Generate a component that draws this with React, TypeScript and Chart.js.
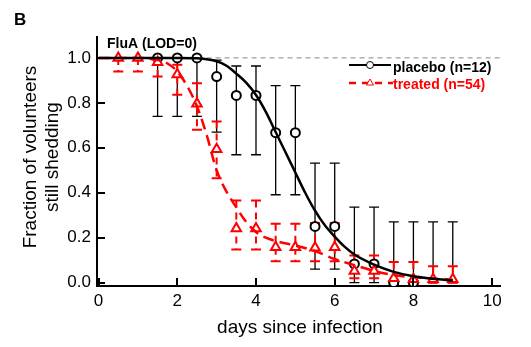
import React, { useEffect, useRef } from 'react';
import { Chart, registerables } from 'chart.js';

Chart.register(...registerables);

// ---- data ----
const placeboDays = [1.5, 2, 2.5, 3, 3.5, 4, 4.5, 5, 5.5, 6, 6.5, 7, 7.5, 8];
const placeboFrac = [1, 1, 1, 0.917, 0.833, 0.833, 0.667, 0.667, 0.25, 0.25, 0.083, 0.083, 0, 0];
const placeboBarDays = [1.5, 2, 2.5, 3, 3.5, 4, 4.5, 5, 5.5, 6, 6.5, 7, 7.5, 8, 8.5, 9];
const placeboLow = [0.74, 0.74, 0.74, 0.67, 0.569, 0.569, 0.391, 0.391, 0.06, 0.06, 0, 0, 0, 0, 0, 0];
const placeboHigh = [1, 1, 1, 0.99, 0.964, 0.964, 0.877, 0.877, 0.532, 0.532, 0.336, 0.336, 0.27, 0.27, 0.27, 0.27];

const treatedDays = [0.5, 1, 1.5, 2, 2.5, 3, 3.5, 4, 4.5, 5, 5.5, 6, 6.5, 7, 7.5, 8, 8.5, 9];
const treatedFrac = [1, 1, 0.981, 0.926, 0.796, 0.593, 0.241, 0.241, 0.157, 0.157, 0.155, 0.157, 0.052, 0.052, 0.019, 0.015, 0.015, 0.015];
const treatedLow = [0.94, 0.94, 0.917, 0.836, 0.68, 0.465, 0.147, 0.147, 0.095, 0.095, 0.095, 0.095, 0.02, 0.02, 0, 0, 0, 0];
const treatedHigh = [1, 1, 1, 0.969, 0.887, 0.717, 0.365, 0.365, 0.262, 0.262, 0.265, 0.265, 0.121, 0.121, 0.092, 0.092, 0.073, 0.073];

const placeboFitX = [0, 1, 2, 2.5, 3, 3.25, 3.5, 3.75, 4, 4.25, 4.5, 4.75, 5, 5.25, 5.5, 5.75, 6, 6.25, 6.5, 7, 7.5, 8, 8.5, 9];
const placeboFitY = [1, 1, 1, 0.998, 0.985, 0.965, 0.93, 0.89, 0.835, 0.76, 0.67, 0.58, 0.49, 0.4, 0.32, 0.255, 0.205, 0.16, 0.125, 0.08, 0.048, 0.028, 0.017, 0.01];

const treatedFitX = [0, 1, 1.5, 1.75, 2, 2.25, 2.5, 2.75, 3, 3.25, 3.5, 3.75, 4, 4.25, 4.5, 5, 5.5, 6, 6.5, 7, 7.5, 8, 8.5, 9];
const treatedFitY = [1, 1, 0.99, 0.975, 0.94, 0.875, 0.785, 0.655, 0.5, 0.405, 0.335, 0.27, 0.225, 0.2, 0.185, 0.165, 0.14, 0.105, 0.078, 0.052, 0.034, 0.024, 0.018, 0.013];

const xTicks = [0, 2, 4, 6, 8, 10];
const yTicks = [0, 0.2, 0.4, 0.6, 0.8, 1.0];

const lodLevel = 1.0;

const FONT = "'Liberation Sans', Arial, sans-serif";
const RED = '#ff0000';

const zip = (xs: number[], ys: number[]) => xs.map((x, i) => ({ x, y: ys[i] }));

const errorBarPlugin = {
  id: 'errorBars',
  beforeDatasetsDraw(chart: any) {
    const { ctx, scales } = chart;
    const xs = scales.x, ys = scales.y;
    ctx.save();
    // placebo bars (black, solid)
    ctx.strokeStyle = '#000';
    ctx.lineWidth = 1.3;
    placeboBarDays.forEach((d, i) => {
      const px = xs.getPixelForValue(d);
      const y1 = ys.getPixelForValue(placeboLow[i]);
      const y2 = ys.getPixelForValue(placeboHigh[i]);
      ctx.beginPath();
      ctx.moveTo(px, y1); ctx.lineTo(px, y2);
      ctx.moveTo(px - 5, y1); ctx.lineTo(px + 5, y1);
      ctx.moveTo(px - 5, y2); ctx.lineTo(px + 5, y2);
      ctx.stroke();
    });
    // treated bars (red, dashed stems)
    ctx.strokeStyle = RED;
    ctx.lineWidth = 2;
    treatedDays.forEach((d, i) => {
      const px = xs.getPixelForValue(d);
      const y1 = ys.getPixelForValue(treatedLow[i]);
      const y2 = ys.getPixelForValue(treatedHigh[i]);
      ctx.setLineDash([7, 5]);
      ctx.beginPath();
      ctx.moveTo(px, y2); ctx.lineTo(px, y1);
      ctx.stroke();
      ctx.setLineDash([]);
      ctx.beginPath();
      ctx.moveTo(px - 5, y1); ctx.lineTo(px + 5, y1);
      ctx.moveTo(px - 5, y2); ctx.lineTo(px + 5, y2);
      ctx.stroke();
    });
    ctx.restore();
  },
};

const decorPlugin = {
  id: 'decor',
  afterDraw(chart: any) {
    const { ctx, scales, chartArea } = chart;
    const xs = scales.x, ys = scales.y;
    ctx.save();
    // inward ticks
    ctx.strokeStyle = '#000';
    ctx.lineWidth = 2;
    ctx.beginPath();
    yTicks.forEach((v) => {
      const py = Math.round(ys.getPixelForValue(v)) + 0.0;
      ctx.moveTo(chartArea.left, py);
      ctx.lineTo(chartArea.left + 8, py);
    });
    xTicks.forEach((v) => {
      const px = Math.round(xs.getPixelForValue(v));
      ctx.moveTo(px, chartArea.bottom);
      ctx.lineTo(px, chartArea.bottom - 8);
    });
    ctx.stroke();

    // texts
    ctx.fillStyle = '#000';
    ctx.textBaseline = 'middle';
    ctx.textAlign = 'left';
    ctx.font = `bold 17px ${FONT}`;
    ctx.fillText('B', 14, 20);
    ctx.font = `bold 14px ${FONT}`;
    ctx.fillText('FluA (LOD=0)', 107, 44);

    ctx.font = `19px ${FONT}`;
    ctx.textAlign = 'center';
    ctx.fillText('days since infection', 300, 328);
    ctx.save();
    ctx.translate(31, 157);
    ctx.rotate(-Math.PI / 2);
    ctx.fillText('Fraction of volunteers', 0, 0);
    ctx.restore();
    ctx.save();
    ctx.translate(53, 157);
    ctx.rotate(-Math.PI / 2);
    ctx.fillText('still shedding', 0, 0);
    ctx.restore();

    // legend
    const ly1 = 65, ly2 = 83;
    ctx.lineWidth = 2;
    ctx.strokeStyle = '#000';
    ctx.beginPath();
    ctx.moveTo(349, ly1); ctx.lineTo(391, ly1);
    ctx.stroke();
    ctx.lineWidth = 1;
    ctx.fillStyle = '#fff';
    ctx.beginPath();
    ctx.arc(370, ly1, 3.5, 0, Math.PI * 2);
    ctx.fill();
    ctx.stroke();

    ctx.strokeStyle = RED;
    ctx.lineWidth = 2.5;
    ctx.setLineDash([7, 6]);
    ctx.beginPath();
    ctx.moveTo(349, ly2); ctx.lineTo(393, ly2);
    ctx.stroke();
    ctx.setLineDash([]);
    ctx.lineWidth = 1;
    ctx.fillStyle = '#fff';
    ctx.beginPath();
    ctx.moveTo(370, ly2 - 4);
    ctx.lineTo(373.5, ly2 + 2);
    ctx.lineTo(366.5, ly2 + 2);
    ctx.closePath();
    ctx.fill();
    ctx.stroke();

    ctx.textAlign = 'left';
    ctx.font = `bold 14px ${FONT}`;
    ctx.fillStyle = '#000';
    ctx.fillText('placebo (n=12)', 393, 68);
    ctx.fillStyle = RED;
    ctx.fillText('treated (n=54)', 393, 85);
    ctx.restore();
  },
};

export default function App() {
  const ref = useRef<HTMLCanvasElement | null>(null);

  useEffect(() => {
    if (!ref.current) return;
    const chart = new Chart(ref.current, {
      type: 'scatter',
      data: {
        datasets: [
          {
            label: 'placebo fit',
            type: 'line',
            data: zip(placeboFitX, placeboFitY),
            borderColor: '#000',
            borderWidth: 2.5,
            pointRadius: 0,
            cubicInterpolationMode: 'monotone',
            fill: false,
          },
          {
            label: 'treated fit',
            type: 'line',
            data: zip(treatedFitX, treatedFitY),
            borderColor: RED,
            borderWidth: 2.5,
            borderDash: [11, 6],
            pointRadius: 0,
            cubicInterpolationMode: 'monotone',
            fill: false,
          },
          {
            label: 'treated (n=54)',
            data: zip(treatedDays, treatedFrac),
            pointStyle: 'triangle',
            pointRadius: 5.5,
            borderColor: RED,
            borderWidth: 2,
            backgroundColor: '#fff',
            showLine: false,
          },
          {
            label: 'placebo (n=12)',
            data: zip(placeboDays, placeboFrac),
            pointStyle: 'circle',
            pointRadius: 4.5,
            borderColor: '#000',
            borderWidth: 2,
            backgroundColor: '#fff',
            showLine: false,
          },
          {
            label: 'LOD',
            type: 'line',
            data: [{ x: 0, y: lodLevel }, { x: 10.2, y: lodLevel }],
            borderColor: '#888',
            borderWidth: 1,
            borderDash: [5, 4],
            pointRadius: 0,
            fill: false,
          },
        ],
      },
      options: {
        animation: false,
        responsive: false,
        maintainAspectRatio: false,
        layout: { padding: { left: 0, top: 37, right: 31, bottom: 0 } },
        plugins: {
          legend: { display: false },
          tooltip: { enabled: false },
        },
        scales: {
          x: {
            type: 'linear',
            min: -0.04,
            max: 10.2,
            grid: { display: false, drawTicks: false },
            border: { display: true, color: '#000', width: 2 },
            afterBuildTicks: (s: any) => { s.ticks = xTicks.map((v) => ({ value: v })); },
            afterFit: (s: any) => { s.height = 61; },
            ticks: {
              color: '#000',
              font: { family: FONT, size: 17 },
              padding: 5,
              maxRotation: 0,
              autoSkip: false,
              callback: (v: any) => String(v),
            },
          },
          y: {
            type: 'linear',
            min: -0.015,
            max: 1.093,
            grid: { display: false, drawTicks: false },
            border: { display: true, color: '#000', width: 2 },
            afterBuildTicks: (s: any) => { s.ticks = yTicks.map((v) => ({ value: v })); },
            afterFit: (s: any) => { s.width = 97; },
            ticks: {
              color: '#000',
              font: { family: FONT, size: 17 },
              padding: 6,
              autoSkip: false,
              callback: (v: any) => Number(v).toFixed(1),
            },
          },
        },
      },
      plugins: [errorBarPlugin, decorPlugin],
    } as any);
    return () => chart.destroy();
  }, []);

  return (
    <div style={{ position: 'fixed', left: 0, top: 0, width: 531, height: 347, background: '#fff' }}>
      <canvas ref={ref} width={531} height={347} style={{ width: 531, height: 347, display: 'block' }} />
    </div>
  );
}
